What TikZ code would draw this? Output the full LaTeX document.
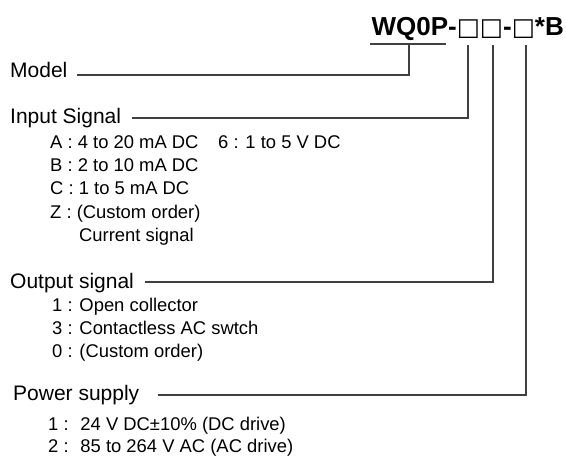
\documentclass[tikz,border=0pt]{standalone}
\usepackage{fontspec}
\setmainfont{Liberation Sans}
\newfontfamily\boxfont{DejaVu Sans}
\begin{document}
\begin{tikzpicture}[x=1pt,y=-1pt,
  lbl/.style={anchor=base west,inner sep=0pt,font=\fontsize{21}{25}\selectfont},
  itm/.style={anchor=base west,inner sep=0pt,font=\fontsize{18.4}{22}\selectfont},
  lead/.style={draw=black!75,line width=1.1pt}]
\useasboundingbox (0,0) rectangle (566,458);
% title
\node[anchor=base east,inner sep=0pt,font=\fontsize{26}{30}\selectfont\bfseries] (title) at (564,35)
  {WQ0P-{\fontsize{24.5}{30}\boxfont\mdseries □□}-{\fontsize{24.5}{30}\boxfont\mdseries □}*B};
% headings
\node[lbl] (model) at (10,77) {Model};
\node[lbl] (input) at (10,123) {Input Signal};
\node[lbl] (output) at (10,288) {Output signal};
\node[lbl] (power) at (13,400) {Power supply};
% input items
\node[itm] (ia) at (50,148) {A : 4 to 20 mA DC};
\node[itm] (i6) at (218,148) {6 : 1 to 5 V DC};
\node[itm] (ib) at (50,171) {B : 2 to 10 mA DC};
\node[itm] (ic) at (50,194) {C : 1 to 5 mA DC};
\node[itm] (iz) at (50,218) {Z : (Custom order)};
\node[itm] (izz) at (79,241) {Current signal};
% output items
\node[itm] (o1) at (52,311) {1 : Open collector};
\node[itm] (o3) at (52,334) {3 : Contactless AC swtch};
\node[itm] (o0) at (52,357) {0 : (Custom order)};
% power items
\node[itm] (p1) at (48,430) {1 :\hspace{5pt} 24 V DC±10\% (DC drive)};
\node[itm] (p2) at (48,452) {2 :\hspace{5pt} 85 to 264 V AC (AC drive)};
% leader coordinates
\coordinate (mL) at (370,44);
\coordinate (mR) at (446,44);
\coordinate (mT) at (409,44);
\coordinate (mB) at (409,75);
\coordinate (mE) at (77,75);
\coordinate (iT) at (468,45);
\coordinate (iB) at (468,118);
\coordinate (iE) at (132,118);
\coordinate (oT) at (493,45);
\coordinate (oB) at (493,282);
\coordinate (oE) at (145,282);
\coordinate (pT) at (526,45);
\coordinate (pB) at (526,395);
\coordinate (pE) at (158,395);
\draw[lead] (mL) -- (mR);
\draw[lead] (mT) -- (mB) -- (mE);
\draw[lead] (iT) -- (iB) -- (iE);
\draw[lead] (oT) -- (oB) -- (oE);
\draw[lead] (pT) -- (pB) -- (pE);
\end{tikzpicture}
\end{document}
